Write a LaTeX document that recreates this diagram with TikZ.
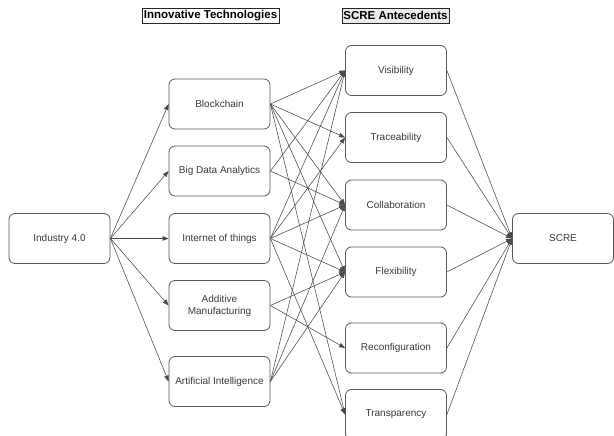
\documentclass[tikz,border=0pt]{standalone}
\usepackage{fontspec}
\setmainfont{Liberation Sans}
\usetikzlibrary{arrows.meta}
\definecolor{boxline}{HTML}{5A5A5A}
\definecolor{txt}{HTML}{3A3A3A}
\definecolor{conn}{HTML}{4A4A4A}
\begin{document}
\begin{tikzpicture}[x=1pt,y=-1pt,
  box/.style={draw=boxline, line width=0.8pt, rounded corners=6pt,
    minimum width=101pt, minimum height=50pt, inner sep=1pt, text=txt,
    font=\fontsize{10}{12}\selectfont, align=center, fill=white},
  head/.style={draw=black!85, line width=0.6pt, inner sep=0pt,
    font=\bfseries\fontsize{11.5}{13}\selectfont, minimum height=15pt},
  arr/.style={draw=conn, line width=0.55pt, -{Triangle[length=6pt,width=4.5pt]}}]
\useasboundingbox (0,0) rectangle (614,436);
\fill[white] (0,0) rectangle (614,436);
% headers
\node[head, minimum width=137pt] (h1) at (210.5,15.5) {Innovative Technologies};
\node[head, minimum width=107pt, fill=black!8] (h2) at (395.5,15.5) {SCRE Antecedents};
% nodes
\node[box] (ind) at (59.5,238.5) {Industry 4.0};
\node[box] (bc) at (219.5,104) {Blockchain};
\node[box] (bd) at (219.5,171) {Big Data Analytics};
\node[box] (iot) at (219.5,238.5) {Internet of things};
\node[box] (am) at (219.5,305.5) {Additive\\Manufacturing};
\node[box] (ai) at (219.5,381.5) {Artificial Intelligence};
\node[box] (vis) at (396,70.5) {Visibility};
\node[box] (tra) at (396,137.5) {Traceability};
\node[box] (col) at (396,205) {Collaboration};
\node[box] (fle) at (396,272) {Flexibility};
\node[box] (rec) at (396,348) {Reconfiguration};
\node[box] (tsp) at (396,414.5) {Transparency};
\node[box] (scre) at (563,238.5) {SCRE};
% Industry 4.0 -> technologies
\foreach \t in {bc,bd,iot,am,ai} \draw[arr] (ind.east) -- (\t.west);
% technologies -> antecedents
\foreach \s/\t in {bc/vis,bc/tra,bc/col,bc/fle,bc/tsp,
                   bd/vis,bd/col,
                   iot/vis,iot/tra,iot/col,iot/fle,iot/tsp,
                   am/fle,am/rec,
                   ai/vis,ai/col,ai/fle}
  \draw[arr] (\s.east) -- (\t.west);
% antecedents -> SCRE
\foreach \a in {vis,tra,col,fle,rec,tsp} \draw[arr] (\a.east) -- (scre.west);
\end{tikzpicture}
\end{document}
